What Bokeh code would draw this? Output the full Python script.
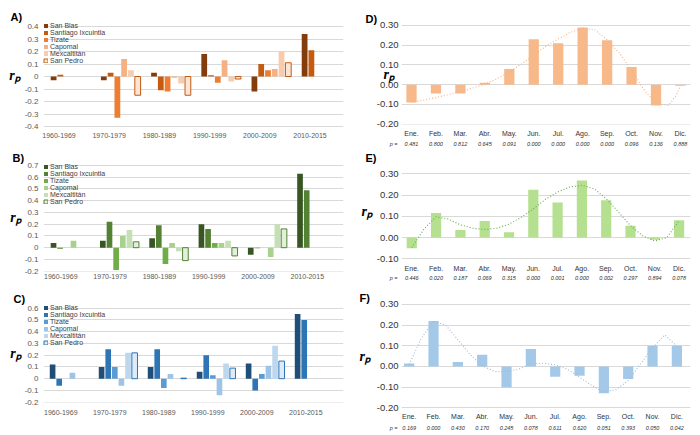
from bokeh.plotting import figure
from bokeh.models import (Range1d, FixedTicker, PrintfTickFormatter, LinearAxis,
                          Legend, LegendItem)
from bokeh.layouts import column, row
from bokeh.embed import file_html
from bokeh.resources import INLINE

# ---------------------------------------------------------------- data
decades = ["1960-1969", "1970-1979", "1980-1989", "1990-1999", "2000-2009", "2010-2015"]
sites = ["San Blas", "Santiago Ixcuintla", "Tizate", "Capomal", "Mexcaltitán", "San Pedro"]

# panel A (None = no bar)
A_san_blas = [-0.03, -0.03, 0.03, 0.18, -0.12, 0.34]
A_santiago = [0.015, 0.03, -0.11, 0.01, 0.10, 0.21]
A_tizate = [None, -0.33, -0.12, -0.05, 0.05, None]
A_capomal = [None, 0.14, -0.01, 0.13, 0.06, None]
A_mexcaltitan = [None, 0.05, -0.055, -0.04, 0.20, None]
A_san_pedro = [None, -0.15, -0.15, -0.02, 0.11, None]

# panel B
B_san_blas = [0.04, 0.06, 0.08, 0.20, -0.06, 0.63]
B_santiago = [-0.01, 0.22, 0.19, 0.16, -0.005, 0.49]
B_tizate = [None, -0.19, -0.14, 0.04, None, None]
B_capomal = [0.06, 0.10, 0.04, 0.04, -0.08, None]
B_mexcaltitan = [None, 0.15, -0.03, 0.06, 0.20, None]
B_san_pedro = [None, 0.05, -0.11, -0.07, 0.16, None]

# panel C
C_san_blas = [0.12, 0.10, 0.10, 0.06, 0.13, 0.55]
C_santiago = [-0.06, 0.25, 0.25, 0.20, -0.10, 0.50]
C_tizate = [None, 0.10, -0.08, 0.03, 0.04, None]
C_capomal = [0.05, -0.06, 0.04, -0.14, 0.11, None]
C_mexcaltitan = [None, 0.22, 0.0, 0.13, 0.28, None]
C_san_pedro = [None, 0.22, 0.005, 0.09, 0.15, None]

A_yticks = [-0.4, -0.3, -0.2, -0.1, 0, 0.1, 0.2, 0.3, 0.4]
B_yticks = [-0.2, -0.1, 0, 0.1, 0.2, 0.3, 0.4, 0.5, 0.6, 0.7]
C_yticks = [-0.2, -0.1, 0, 0.1, 0.2, 0.3, 0.4, 0.5, 0.6]

months = ["Ene.", "Feb.", "Mar.", "Abr.", "May.", "Jun.", "Jul.", "Ago.", "Sep.", "Oct.", "Nov.", "Dic."]

D_r = [-0.09, -0.045, -0.045, 0.01, 0.08, 0.23, 0.21, 0.29, 0.225, 0.09, -0.105, -0.005]
D_p = ["0.481", "0.800", "0.812", "0.645", "0.091", "0.000", "0.000", "0.000", "0.000", "0.096", "0.136", "0.888"]
D_trend_x = [0, 0.5, 1, 1.5, 2, 2.5, 3, 3.5, 4, 4.5, 5, 5.5, 6, 6.5, 7, 7.5, 8, 8.5, 9, 9.5, 10, 10.5, 10.8, 11]
D_trend_y = [-0.09, -0.078, -0.065, -0.05, -0.035, -0.017, 0.003, 0.03, 0.065, 0.105, 0.15, 0.195,
             0.232, 0.265, 0.287, 0.277, 0.229, 0.16, 0.073, -0.025, -0.095, -0.105, -0.06, -0.005]

E_r = [-0.05, 0.115, 0.035, 0.078, 0.025, 0.225, 0.165, 0.268, 0.175, 0.055, -0.01, 0.082]
E_p = ["0.446", "0.020", "0.187", "0.069", "0.315", "0.000", "0.001", "0.000", "0.002", "0.297", "0.894", "0.078"]
E_trend_x = [0, 0.5, 1, 1.5, 2, 2.5, 3, 3.5, 4, 4.5, 5, 5.5, 6, 6.5, 7, 7.5, 8, 8.5, 9, 9.5, 10, 10.5, 11]
E_trend_y = [-0.048, 0.04, 0.098, 0.087, 0.06, 0.044, 0.038, 0.044, 0.063, 0.095, 0.135, 0.18,
             0.214, 0.238, 0.246, 0.23, 0.183, 0.12, 0.056, 0.008, -0.016, 0.0, 0.08]

F_r = [0.015, 0.22, 0.022, 0.057, -0.10, 0.085, -0.05, -0.045, -0.13, -0.06, 0.10, 0.10]
F_p = ["0.169", "0.000", "0.430", "0.170", "0.245", "0.078", "0.611", "0.620", "0.051", "0.393", "0.050", "0.042"]
F_trend_x = [0, 0.5, 1, 1.5, 2, 2.5, 3, 3.5, 4, 4.5, 5, 5.5, 6, 6.5, 7, 7.5, 8, 8.5, 9, 9.5, 10, 10.5, 11]
F_trend_y = [0.01, 0.137, 0.22, 0.2, 0.13, 0.058, 0.003, -0.024, -0.025, -0.013, 0.011, 0.016,
             0.008, -0.013, -0.052, -0.092, -0.123, -0.112, -0.068, 0.011, 0.09, 0.153, 0.098]

R_yticks_D = [-0.2, -0.1, 0, 0.1, 0.2, 0.3]
R_yticks_E = [-0.1, 0, 0.1, 0.2, 0.3]
R_yticks_F = [-0.2, -0.1, 0, 0.1, 0.2, 0.3]

# ---------------------------------------------------------------- style
FONT = "Liberation Sans"
SERIF = "Liberation Serif"
A_colors = ["#843c0c", "#c55a11", "#ed7d31", "#f4b183", "#f8cbad", "#fbe5d6"]
B_colors = ["#375623", "#548235", "#70ad47", "#a9d18e", "#c5e0b4", "#e2f0d9"]
C_colors = ["#1f4e79", "#2e75b6", "#5b9bd5", "#9dc3e6", "#bdd7ee", "#deebf7"]
A_edge, B_edge, C_edge = "#c55a11", "#548235", "#2e75b6"

ROW_TOP = [0, 149, 288]
ROW_H = [149, 139, 145]
COL_LEFT = [0, 353]
COL_W = [353, 344]
NBSP = "\u00a0"


def no_ticks(ax):
    ax.axis_line_color = None
    ax.major_tick_line_color = None
    ax.minor_tick_line_color = None
    ax.major_tick_out = 0
    ax.major_tick_in = 0
    ax.minor_tick_out = 0
    ax.minor_tick_in = 0


def make_fig(col, rowi, fl, fr, ft, fb, xr, yref, ypx, yscale, letter, letter_x):
    top = ROW_TOP[rowi]
    h = ROW_H[rowi]
    left = COL_LEFT[col]
    w = COL_W[col]
    y_top = yref + (ypx - ft) / yscale
    y_bot = yref - (fb - ypx) / yscale
    p = figure(width=w, height=h, x_range=Range1d(xr[0], xr[1]), y_range=Range1d(y_bot, y_top),
               min_border_left=fl - left, min_border_right=left + w - fr,
               min_border_top=ft - top, min_border_bottom=top + h - fb,
               output_backend="svg", toolbar_location=None)
    p.outline_line_color = None
    p.background_fill_color = "white"
    p.border_fill_color = "white"
    p.xgrid.visible = False
    p.ygrid.grid_line_color = "#d9d9d9"
    p.ygrid.grid_line_width = 1
    for ax in p.xaxis + p.yaxis:
        no_ticks(ax)
        ax.major_label_text_font = FONT
    p.title.text = letter
    p.title.align = "left"
    p.title.offset = letter_x - fl
    p.title.standoff = 0
    p.title.text_font = FONT
    p.title.text_font_size = "11px"
    p.title.text_font_style = "bold"
    p.title.text_color = "#000000"
    p.yaxis.axis_label = "r" + "\u209a"
    p.yaxis.axis_label_text_font = SERIF
    p.yaxis.axis_label_text_font_size = "14px"
    p.yaxis.axis_label_text_font_style = "bold italic"
    p.yaxis.axis_label_text_color = "#000000"
    try:
        p.yaxis.axis_label_orientation = "horizontal"
    except Exception:
        pass
    return p


def set_label_standoff(p, s):
    try:
        p.yaxis.axis_label_standoff = s
    except Exception:
        p.yaxis.axis_label_standoff = 0


def decade_panel(col, rowi, letter, lx, fl, fr, ft, fb, xr, yref, ypx, yscale, yticks,
                 series, colors, edge, offset, xstand, rstand):
    p = make_fig(col, rowi, fl, fr, ft, fb, xr, yref, ypx, yscale, letter, lx)
    slot = 0.135
    bw = 0.115
    items = []
    for k, vals in enumerate(series):
        xs = [i + offset + (k - 2.5) * slot for i, v in enumerate(vals) if v is not None]
        tops = [v for v in vals if v is not None]
        if k == 5:
            r = p.vbar(x=xs, top=tops, bottom=0, width=bw, fill_color=colors[k],
                       line_color=edge, line_width=1)
        else:
            r = p.vbar(x=xs, top=tops, bottom=0, width=bw, fill_color=colors[k],
                       line_color=None)
        items.append(LegendItem(label=sites[k], renderers=[r]))
    tick = FixedTicker(ticks=yticks)
    p.yaxis.ticker = tick
    p.ygrid.ticker = tick
    p.yaxis.formatter = PrintfTickFormatter(format="%.1f")
    p.yaxis.major_label_overrides = {0: "0"}
    p.yaxis.major_label_text_font_size = "8px"
    p.yaxis.major_label_text_color = "#595959"
    p.yaxis.major_label_standoff = 5
    set_label_standoff(p, rstand)
    p.xaxis.ticker = FixedTicker(ticks=list(range(6)))
    p.xaxis.major_label_overrides = {i: d for i, d in enumerate(decades)}
    p.xaxis.major_label_text_font_size = "7px"
    p.xaxis.major_label_text_color = "#595959"
    p.xaxis.major_label_standoff = xstand
    leg = Legend(items=items, location="top_left")
    leg.margin = 0
    leg.padding = 0
    try:
        leg.spacing = -1
    except Exception:
        leg.spacing = 0
    leg.glyph_width = 5
    leg.glyph_height = 5
    leg.label_height = 6
    leg.label_standoff = 2
    leg.label_text_font = FONT
    leg.label_text_font_size = "7px"
    leg.label_text_color = "#404040"
    leg.background_fill_alpha = 0
    leg.border_line_color = None
    p.add_layout(leg, "center")
    return p


def month_panel(col, rowi, letter, lx, fl, fr, ft, fb, xr, yref, ypx, yscale, yticks,
                vals, pvals, tx, ty, bar_color, trend_color, ystand, mstand, pstand, rstand):
    p = make_fig(col, rowi, fl, fr, ft, fb, xr, yref, ypx, yscale, letter, lx)
    p.vbar(x=list(range(12)), top=vals, bottom=0, width=0.42, fill_color=bar_color, line_color=None)
    p.line(x=tx, y=ty, line_color=trend_color, line_width=1.1, line_dash="1 2")
    tick = FixedTicker(ticks=yticks)
    p.yaxis.ticker = tick
    p.ygrid.ticker = tick
    p.yaxis.formatter = PrintfTickFormatter(format="%.2f")
    p.yaxis.major_label_text_font_size = "9.5px"
    p.yaxis.major_label_text_color = "#333333"
    p.yaxis.major_label_standoff = ystand
    set_label_standoff(p, rstand)
    mt = FixedTicker(ticks=list(range(12)))
    p.xaxis.ticker = mt
    p.xaxis.major_label_overrides = {i: m for i, m in enumerate(months)}
    p.xaxis.major_label_text_font_size = "7px"
    p.xaxis.major_label_text_color = "#333333"
    p.xaxis.major_label_standoff = mstand
    p_at = xr[0] + 0.02
    pt = FixedTicker(ticks=[p_at] + list(range(12)))
    pax = LinearAxis(ticker=pt, major_label_standoff=pstand,
                     major_label_text_font=FONT, major_label_text_font_size="5.5px",
                     major_label_text_font_style="italic", major_label_text_color="#333333")
    no_ticks(pax)
    overrides = {i: v for i, v in enumerate(pvals)}
    overrides[p_at] = "p =" + NBSP * 11
    pax.major_label_overrides = overrides
    p.add_layout(pax, "below")
    return p


pA = decade_panel(0, 0, "A)", 10, 43, 343, 22, 128, (-0.309, 5.667), 0.4, 26, 125, A_yticks,
                  [A_san_blas, A_santiago, A_tizate, A_capomal, A_mexcaltitan, A_san_pedro],
                  A_colors, A_edge, 0.23, 4, 1)
pB = decade_panel(0, 1, "B)", 12, 43, 343, 163, 271, (-0.351, 5.734), 0.7, 165, 117.4, B_yticks,
                  [B_san_blas, B_santiago, B_tizate, B_capomal, B_mexcaltitan, B_san_pedro],
                  B_colors, B_edge, 0.19, 2, 0)
pC = decade_panel(0, 2, "C)", 13, 43, 343, 304, 402, (-0.353, 5.769), 0.6, 307.7, 117.5, C_yticks,
                  [C_san_blas, C_santiago, C_tizate, C_capomal, C_mexcaltitan, C_san_pedro],
                  C_colors, C_edge, 0.17, 7, 0)

pD = month_panel(1, 0, "D)", 365, 401, 690, 24, 128, (-0.409, 11.41), 0.30, 25, 205.4, R_yticks_D,
                 D_r, D_p, D_trend_x, D_trend_y, "#f7b98a", "#f4b183", 3, 5, 1, -21)
pE = month_panel(1, 1, "E)", 365, 401, 690, 163, 259, (-0.424, 11.469), 0.30, 173.3, 212.5, R_yticks_E,
                 E_r, E_p, E_trend_x, E_trend_y, "#b5e08f", "#6aa84f", 3, 5, 0, 1)
pF = month_panel(1, 2, "F)", 359, 401, 690, 303, 409, (-0.316, 11.56), 0.30, 304, 208.6, R_yticks_F,
                 F_r, F_p, F_trend_x, F_trend_y, "#a4c8e8", "#9dbbd8", 3, 4, 2, 3)

layout = row(column(pA, pB, pC), column(pD, pE, pF))
open("out.html", "w").write(file_html(layout, INLINE))
